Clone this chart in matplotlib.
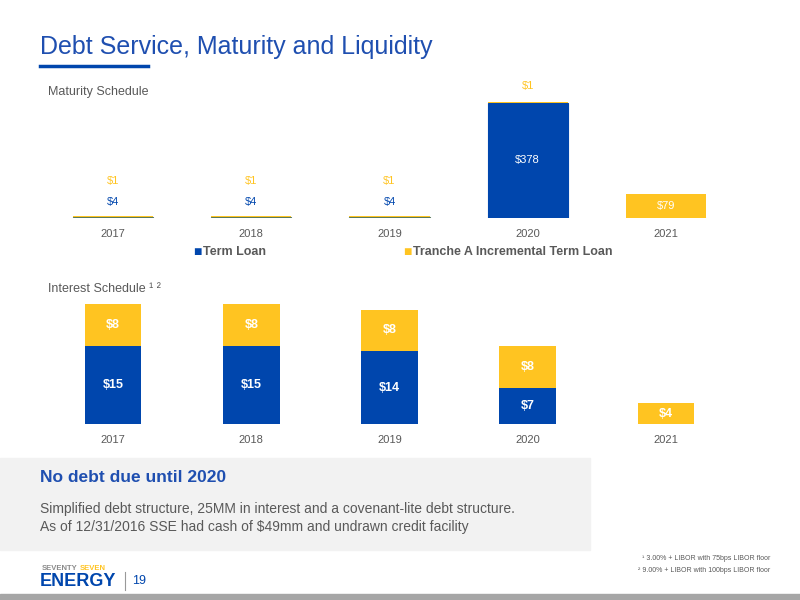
import matplotlib
matplotlib.use("Agg")
import matplotlib.pyplot as plt
import numpy as np
from matplotlib.patches import Rectangle

years = ["2017", "2018", "2019", "2020", "2021"]
mat_term = [4, 4, 4, 378, 0]
mat_tranche = [1, 1, 1, 1, 79]
int_term = [15, 15, 14, 7, 0]
int_tranche = [8, 8, 8, 8, 4]

BLUE = "#0046AD"
YEL = "#FFC421"
GREY = "#595959"
plt.rcParams['font.family'] = ['Liberation Sans', 'DejaVu Sans']

fig = plt.figure(figsize=(8, 6), dpi=100)
W, H = 800, 600
def fx(x): return x / W
def fy(y): return 1 - y / H

x = np.arange(len(years))

# Title
fig.text(fx(40), fy(47), "Debt Service, Maturity and Liquidity", color="#1F4FB0", fontsize=18, va="center")
fig.add_artist(plt.Line2D([fx(40), fx(148)], [fy(66), fy(66)], color=BLUE, lw=2.5))
fig.text(fx(48), fy(92), "Maturity Schedule", color=GREY, fontsize=9, va="center")
fig.text(fx(48), fy(289), "Interest Schedule ¹ ²", color=GREY, fontsize=9, va="center")

# Maturity chart
ax1 = fig.add_axes([fx(44), fy(218), fx(735 - 44), 122 / H])
edges = ["#5a7a5a" if v < 50 else BLUE for v in mat_term]
ax1.bar(x, mat_term, width=0.58, color=BLUE, edgecolor=edges, linewidth=0.8)
ax1.bar(x, mat_tranche, width=0.58, bottom=mat_term, color=YEL)
ax1.set_xlim(-0.5, 4.5); ax1.set_ylim(0, 400)
for i in x:
    t, y = mat_term[i], mat_tranche[i]
    if t > 50:
        ax1.text(i, t / 2, f"${t}", color="white", ha="center", va="center", fontsize=8)
    elif t > 0:
        ax1.annotate(f"${t}", (i, t + y), xytext=(0, 7), textcoords="offset points", color=BLUE, ha="center", va="bottom", fontsize=8)
    if y > 50:
        ax1.text(i, t + y / 2, f"${y}", color="white", ha="center", va="center", fontsize=8)
    else:
        off = 22 if 0 < t <= 50 else 8
        ax1.annotate(f"${y}", (i, t + y), xytext=(0, off), textcoords="offset points", color=YEL, ha="center", va="bottom", fontsize=8)
ax1.set_xticks(x, years)
ax1.tick_params(length=0, labelsize=8, labelcolor=GREY, pad=8)
ax1.set_yticks([])
for s in ax1.spines.values():
    s.set_visible(False)
fig.text(fx(202), fy(252), "■", color=BLUE, fontsize=10, va="center", ha="right")
fig.text(fx(203), fy(252), "Term Loan", color=GREY, fontsize=9, weight="bold", va="center")
fig.text(fx(412), fy(252), "■", color=YEL, fontsize=10, va="center", ha="right")
fig.text(fx(413), fy(252), "Tranche A Incremental Term Loan", color=GREY, fontsize=9, weight="bold", va="center")

# Interest chart
ax2 = fig.add_axes([fx(44), fy(424), fx(735 - 44), 130 / H])
ax2.bar(x, int_term, width=0.41, color=BLUE)
ax2.bar(x, int_tranche, width=0.41, bottom=int_term, color=YEL)
ax2.set_xlim(-0.5, 4.5); ax2.set_ylim(0, 25)
for i in x:
    t, y = int_term[i], int_tranche[i]
    if t > 0:
        ax2.text(i, t / 2, f"${t}", color="white", ha="center", va="center", fontsize=9, weight="bold")
    ax2.text(i, t + y / 2, f"${y}", color="white", ha="center", va="center", fontsize=9, weight="bold")
ax2.set_xticks(x, years)
ax2.tick_params(length=0, labelsize=8, labelcolor=GREY, pad=8)
ax2.set_yticks([])
for s in ax2.spines.values():
    s.set_visible(False)

# Bottom box
fig.add_artist(Rectangle((0, fy(550)), fx(590), (550 - 458) / H, color="#F2F2F2", zorder=0))
fig.text(fx(40), fy(478), "No debt due until 2020", color="#1F4FB0", fontsize=12.5, weight="bold", va="center")
fig.text(fx(40), fy(509), "Simplified debt structure, 25MM in interest and a covenant-lite debt structure.", color=GREY, fontsize=10, va="center")
fig.text(fx(40), fy(527), "As of 12/31/2016 SSE had cash of $49mm and undrawn credit facility", color=GREY, fontsize=10, va="center")
fig.text(fx(770), fy(559), "¹ 3.00% + LIBOR with 75bps LIBOR floor", color=GREY, fontsize=5, ha="right", va="center")
fig.text(fx(770), fy(571), "² 9.00% + LIBOR with 100bps LIBOR floor", color=GREY, fontsize=5, ha="right", va="center")
fig.text(fx(42), fy(568), "SEVENTY", color="#8a8a8a", fontsize=5.5, weight="bold", va="center")
fig.text(fx(80), fy(568), "SEVEN", color=YEL, fontsize=5.5, weight="bold", va="center")
fig.text(fx(40), fy(581), "ENERGY", color=BLUE, fontsize=13, weight="bold", va="center")
fig.add_artist(plt.Line2D([fx(125), fx(125)], [fy(572), fy(590)], color="#999999", lw=0.8))
fig.text(fx(132), fy(581), "19", color=BLUE, fontsize=9, va="center")
fig.add_artist(Rectangle((0, 0), 1, 6 / H, color="#A6A6A6"))

fig.savefig("out.png", dpi=100)
